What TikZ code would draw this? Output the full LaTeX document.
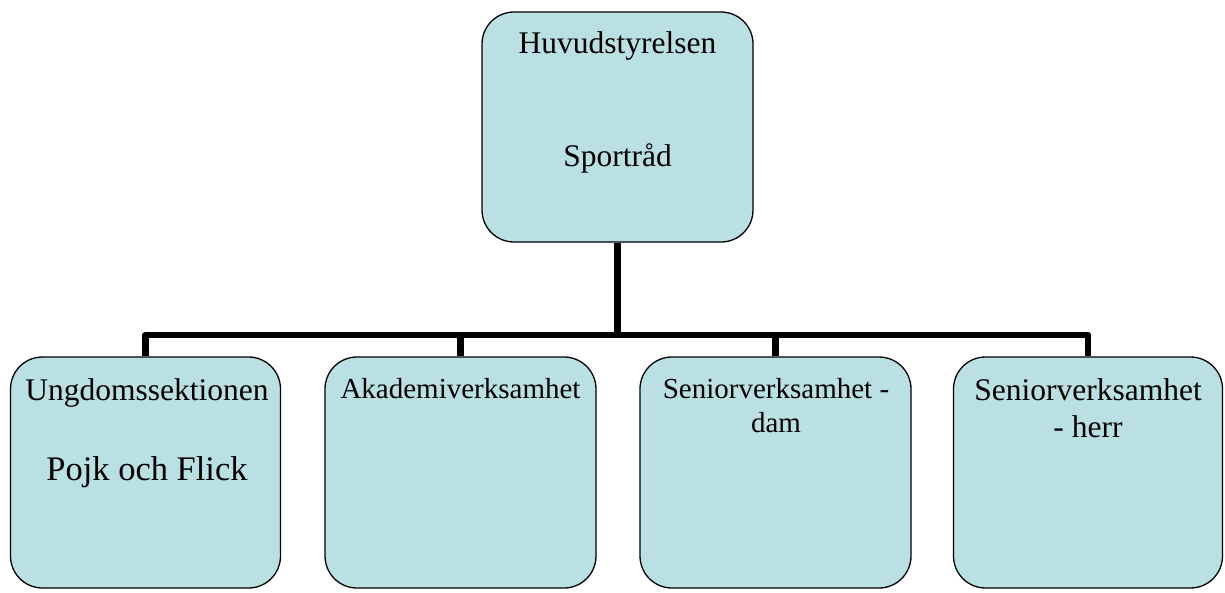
\documentclass[tikz,border=0pt]{standalone}
\usepackage{fontspec}
\setmainfont{Liberation Serif}
\definecolor{boxfill}{RGB}{187,224,227}
\begin{document}
\begin{tikzpicture}[x=1pt,y=-1pt,
  orgbox/.style={draw=black,line width=1.3pt,fill=boxfill,rounded corners=32pt,minimum width=271pt,minimum height=231pt,inner sep=0pt},
  conn/.style={line width=6.5pt,line join=round,line cap=butt},
  big/.style={anchor=base,inner sep=0pt,font=\fontsize{31.5}{36}\selectfont},
  mid/.style={anchor=base,inner sep=0pt,font=\fontsize{29}{34}\selectfont},
  bigger/.style={anchor=base,inner sep=0pt,font=\fontsize{34.5}{40}\selectfont}]
\useasboundingbox (0,0) rectangle (1225,592);
\node[orgbox,minimum height=230pt] (top) at (617.5,127) {};
\node[orgbox,minimum width=270pt] (b1) at (145.5,472.5) {};
\node[orgbox] (b2) at (460.5,472.5) {};
\node[orgbox] (b3) at (775.5,472.5) {};
\node[orgbox,minimum width=269pt] (b4) at (1088,472.5) {};
\coordinate (bus) at (617.5,335);
\draw[conn] (top.south) -- (bus);
\draw[conn] (b1.north) -- (b1.north |- bus) -- (b4.north |- bus) -- (b4.north);
\draw[conn] (b2.north) -- (b2.north |- bus);
\draw[conn] (b3.north) -- (b3.north |- bus);
\node[big] (t1) at (617.5,53) {Huvudstyrelsen};
\node[big] (t2) at (617.5,166) {Sportråd};
\node[big] (u1) at (147,400) {Ungdomssektionen};
\node[bigger] (u2) at (147,480) {Pojk och Flick};
\node[mid] (a1) at (460.5,398) {Akademiverksamhet};
\node[mid] (s1) at (776,398) {Seniorverksamhet -};
\node[mid] (s2) at (776,432) {dam};
\node[big] (h1) at (1088,400) {Seniorverksamhet};
\node[big] (h2) at (1088,437) {- herr};
\end{tikzpicture}
\end{document}
